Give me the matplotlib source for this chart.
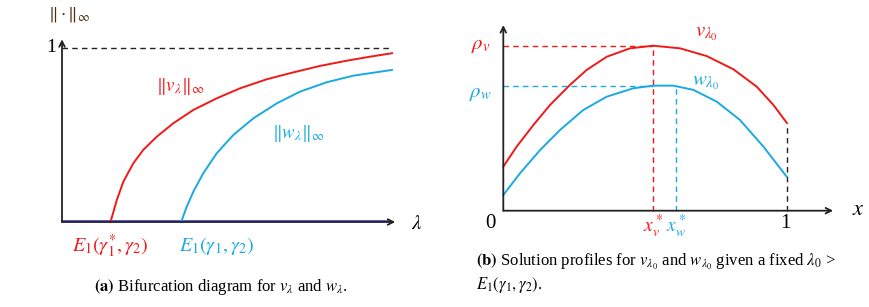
import matplotlib
matplotlib.use("Agg")
import matplotlib.pyplot as plt

plt.rcParams['font.family'] = 'serif'
plt.rcParams['font.serif'] = ['Liberation Serif', 'DejaVu Serif']
plt.rcParams['mathtext.fontset'] = 'stix'

RED = '#f21818'
BLUE = '#1aa9e1'

# (a) bifurcation branches
lam_v = [0.147, 0.166, 0.186, 0.216, 0.246, 0.287, 0.337, 0.398, 0.469, 0.539,
         0.620, 0.701, 0.782, 0.863, 0.933, 1.0]
norm_v = [0.0, 0.126, 0.232, 0.337, 0.414, 0.490, 0.567, 0.644, 0.711, 0.768,
          0.820, 0.860, 0.897, 0.927, 0.950, 0.970]
lam_w = [0.361, 0.378, 0.398, 0.428, 0.469, 0.519, 0.580, 0.651, 0.721, 0.802, 0.883, 1.0]
norm_w = [0.0, 0.088, 0.174, 0.280, 0.395, 0.500, 0.596, 0.682, 0.749, 0.803, 0.841, 0.874]

# (b) solution profiles
x_v = [0.0, 0.047, 0.106, 0.165, 0.235, 0.294, 0.365, 0.447, 0.529, 0.624,
       0.718, 0.812, 0.894, 0.953, 1.0]
prof_v = [0.267, 0.388, 0.519, 0.641, 0.762, 0.853, 0.933, 0.984, 1.0, 0.984,
          0.937, 0.857, 0.752, 0.641, 0.533]
x_w = [0.0, 0.059, 0.130, 0.200, 0.282, 0.365, 0.459, 0.529, 0.600, 0.671,
       0.753, 0.835, 0.918, 1.0]
prof_w = [0.095, 0.227, 0.368, 0.489, 0.610, 0.691, 0.742, 0.758, 0.758, 0.732,
          0.661, 0.550, 0.388, 0.206]

xstar_v, rho_v = 0.529, 1.0
xstar_w, rho_w = 0.609, 0.758

fig = plt.figure(figsize=(8.7, 3.07), dpi=100)

# ---------- panel (a) ----------
ax = fig.add_axes([62 / 870, 85 / 307, 330 / 870, 174 / 307])
ax.set_xlim(0, 1)
ax.set_ylim(0, 1)
ax.axis('off')

arrow = dict(arrowstyle='->', color='#222222', lw=1.3, shrinkA=0, shrinkB=0)
ax.annotate('', xy=(0, 1.05), xytext=(0, 0), arrowprops=arrow, annotation_clip=False)
ax.annotate('', xy=(1.01, 0), xytext=(0, 0), arrowprops=arrow, annotation_clip=False)
ax.plot([0, 0.995], [0.007, 0.007], color='#2a2ad8', lw=1.1, clip_on=False)
ax.plot([0, 1.0], [1, 1], color='#222222', lw=1, ls=(0, (4, 3)), clip_on=False)

ax.plot(lam_v, norm_v, color=RED, lw=1.4, clip_on=False)
ax.plot(lam_w, norm_w, color=BLUE, lw=1.4, clip_on=False)

ax.text(-0.033, 1.0, '1', fontsize=14, ha='center', va='center')
ax.text(0.021, 1.19, r'$\|\cdot\|_\infty$', fontsize=13, ha='center', va='center', color='#4a3010')
ax.text(1.076, -0.017, r'$\lambda$', fontsize=15, ha='center', va='center')
ax.text(0.358, 0.78, r'$\|v_\lambda\|_\infty$', fontsize=13.5, ha='center', va='center', color=RED)
ax.text(0.715, 0.51, r'$\|w_\lambda\|_\infty$', fontsize=13.5, ha='center', va='center', color=BLUE)
ax.text(0.145, -0.138, r'$E_1(\gamma_1^{*},\gamma_2)$', fontsize=14.5, ha='center', va='center', color=RED)
ax.text(0.467, -0.138, r'$E_1(\gamma_1,\gamma_2)$', fontsize=14.5, ha='center', va='center', color=BLUE)
ax.text(0.482, -0.374, r'$\mathbf{(a)}$ Bifurcation diagram for $v_\lambda$ and $w_\lambda$.',
        fontsize=12, ha='center', va='center')

# ---------- panel (b) ----------
bx = fig.add_axes([503.3 / 870, 96.3 / 307, 283.4 / 870, 165 / 307])
bx.set_xlim(0, 1)
bx.set_ylim(0, 1)
bx.axis('off')

bx.annotate('', xy=(0, 1.125), xytext=(0, 0), arrowprops=arrow, annotation_clip=False)
bx.annotate('', xy=(1.164, 0), xytext=(0, 0), arrowprops=arrow, annotation_clip=False)

dash = (0, (4, 3))
bx.plot([0, xstar_v], [rho_v, rho_v], color=RED, lw=1, ls=dash, clip_on=False)
bx.plot([xstar_v, xstar_v], [0, rho_v], color=RED, lw=1, ls=dash, clip_on=False)
bx.plot([0, xstar_v], [rho_w, rho_w], color=BLUE, lw=1, ls=dash, clip_on=False)
bx.plot([xstar_w, xstar_w], [0, rho_w - 0.01], color=BLUE, lw=1, ls=dash, clip_on=False)
bx.plot([1, 1], [0, prof_v[-1]], color='#222222', lw=1, ls=dash, clip_on=False)

bx.plot(x_v, prof_v, color=RED, lw=1.4, clip_on=False)
bx.plot(x_w, prof_w, color=BLUE, lw=1.4, clip_on=False)

bx.text(-0.079, 1.004, r'$\rho_v$', fontsize=15, ha='center', va='center', color=RED)
bx.text(-0.079, 0.713, r'$\rho_w$', fontsize=15, ha='center', va='center', color=BLUE)
bx.text(0.715, 1.071, r'$v_{\lambda_0}$', fontsize=15, ha='center', va='center', color=RED)
bx.text(0.715, 0.78, r'$w_{\lambda_0}$', fontsize=15, ha='center', va='center', color=BLUE)
bx.text(xstar_v, -0.093, r'$x_v^*$', fontsize=14, ha='center', va='center', color=RED)
bx.text(xstar_w, -0.093, r'$x_w^*$', fontsize=14, ha='center', va='center', color=BLUE)
bx.text(-0.047, -0.08, '0', fontsize=15, ha='center', va='center')
bx.text(0.997, -0.08, '1', fontsize=15, ha='center', va='center')
bx.text(1.251, 0.0, r'$x$', fontsize=16, ha='center', va='center')
bx.text(-0.096, -0.311, r'$\mathbf{(b)}$ Solution profiles for $v_{\lambda_0}$ and $w_{\lambda_0}$ given a fixed $\lambda_0$ >',
        fontsize=12, ha='left', va='center')
bx.text(-0.096, -0.45, r'$E_1(\gamma_1,\gamma_2)$.', fontsize=12, ha='left', va='center')

fig.savefig('out.png', dpi=100)
